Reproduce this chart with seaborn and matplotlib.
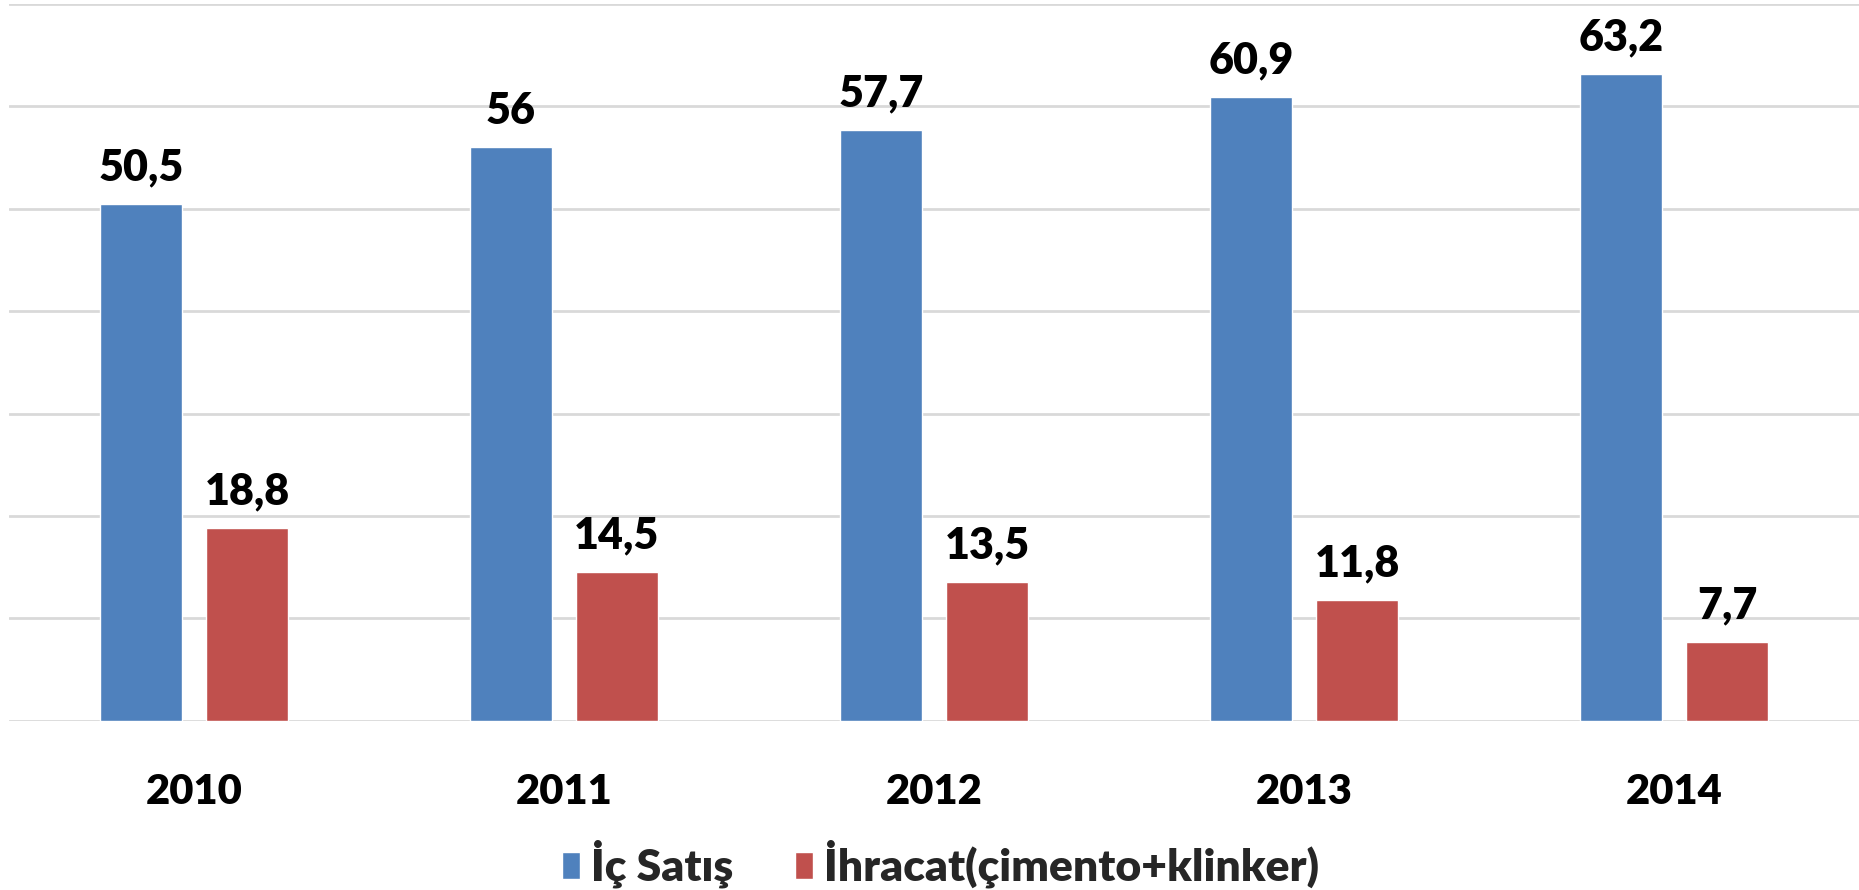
import matplotlib
matplotlib.use("Agg")
import matplotlib.pyplot as plt
import seaborn as sns
import pandas as pd

years = ["2010", "2011", "2012", "2013", "2014"]
ic_satis = [50.5, 56, 57.7, 60.9, 63.2]
ihracat = [18.8, 14.5, 13.5, 11.8, 7.7]
series_names = ["İç Satış", "İhracat(çimento+klinker)"]
colors = ["#4F81BD", "#C0504D"]

df = pd.DataFrame({
    "year": years * 2,
    "value": ic_satis + ihracat,
    "series": [series_names[0]] * len(years) + [series_names[1]] * len(years),
})

sns.set_theme(style="white")
plt.rcParams['font.family'] = ['Lato', 'DejaVu Sans']

fig = plt.figure(figsize=(18.59, 8.90), dpi=100)
ax = fig.add_axes([9 / 1859, 169.3 / 890, 1850 / 1859, 716.7 / 890])

sns.barplot(data=df, x="year", y="value", hue="series", palette=colors,
            width=0.573, gap=0.22, ax=ax, legend=True, saturation=1)

ax.set_xlim(-0.5, len(years) - 0.5)
ax.set_ylim(0, 70)
ax.set_yticks(range(0, 71, 10))
ax.yaxis.grid(True, color="#D9D9D9", linewidth=2)
ax.set_axisbelow(True)
for s in ax.spines.values():
    s.set_visible(False)
ax.tick_params(axis="y", left=False, labelleft=False)
ax.tick_params(axis="x", bottom=False, pad=32)
for lbl in ax.get_xticklabels():
    lbl.set_fontsize(30)
    lbl.set_fontweight("heavy")
    lbl.set_color("black")
ax.set_xlabel("")
ax.set_ylabel("")

for cont in ax.containers:
    labels = [f"{v:g}".replace(".", ",") for v in cont.datavalues]
    ax.bar_label(cont, labels=labels, padding=12, fontsize=31,
                 fontweight="heavy", color="black")

handles, lbls = ax.get_legend_handles_labels()
ax.legend_.remove()
fig.legend(handles, lbls, loc="center", bbox_to_anchor=(0.506, 0.029),
           ncol=2, frameon=False, prop={"size": 32, "weight": "heavy"},
           handlelength=0.4, handleheight=0.55, handletextpad=0.25,
           columnspacing=1.4)

fig.savefig("out.png", dpi=100)
